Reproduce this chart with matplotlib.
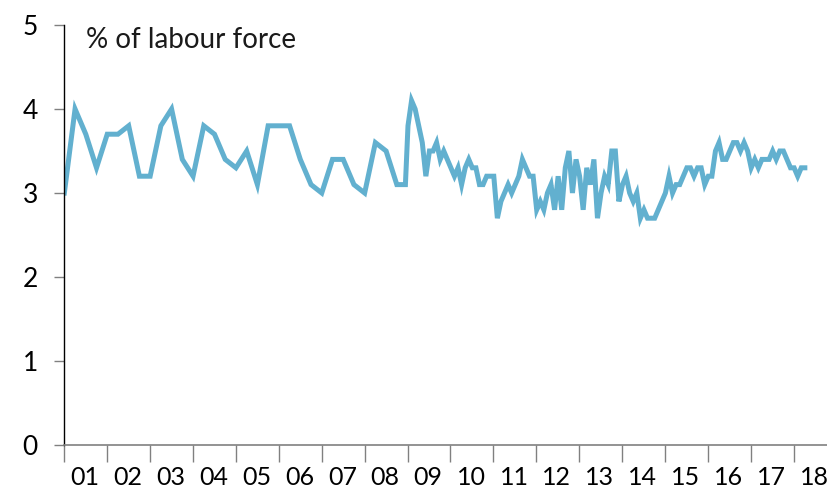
import matplotlib
matplotlib.use('Agg')
from matplotlib import pyplot as plt
import numpy as np

# quarterly series, 2001 Q1 .. 2009 Q1
quarterly = [3.0, 4.0, 3.7, 3.3, 3.7, 3.7, 3.8, 3.2, 3.2, 3.8, 4.0, 3.4,
             3.2, 3.8, 3.7, 3.4, 3.3, 3.5, 3.1, 3.8, 3.8, 3.8, 3.4, 3.1,
             3.0, 3.4, 3.4, 3.1, 3.0, 3.6, 3.5, 3.1, 3.1]

# monthly series from Jan 2009
monthly = [3.8, 4.1, 4.0, 3.8, 3.6, 3.2, 3.5, 3.5, 3.6, 3.4, 3.5, 3.4,
           3.3, 3.2, 3.3, 3.1, 3.3, 3.4, 3.3, 3.3, 3.1, 3.1, 3.2, 3.2,
           3.2, 2.7, 2.9, 3.0, 3.1, 3.0, 3.1, 3.2, 3.4, 3.3, 3.2, 3.2,
           2.8, 2.9, 2.8, 3.0, 3.1, 2.8, 3.2, 2.8, 3.3, 3.5, 3.0, 3.4,
           3.2, 2.8, 3.3, 3.1, 3.4, 2.7, 3.0, 3.2, 3.1, 3.5, 3.5, 2.9,
           3.1, 3.2, 3.0, 2.9, 3.0, 2.7, 2.8, 2.7, 2.7, 2.7, 2.8, 2.9,
           3.0, 3.2, 3.0, 3.1, 3.1, 3.2, 3.3, 3.3, 3.2, 3.3, 3.3, 3.1,
           3.2, 3.2, 3.5, 3.6, 3.4, 3.4, 3.5, 3.6, 3.6, 3.5, 3.6, 3.5,
           3.3, 3.4, 3.3, 3.4, 3.4, 3.4, 3.5, 3.4, 3.5, 3.5, 3.4, 3.3,
           3.3, 3.2, 3.3, 3.3]

year_labels = ['01', '02', '03', '04', '05', '06', '07', '08', '09',
               '10', '11', '12', '13', '14', '15', '16', '17', '18']

x_q = 2001 + 0.25 * np.arange(len(quarterly))
x_q[-1] -= 0.05
x_m = 2009 + np.arange(len(monthly)) / 12 + 0.01
x = np.concatenate([x_q, x_m])
y = np.concatenate([quarterly, monthly])

plt.rcParams['font.family'] = ['Lato', 'DejaVu Sans']

fig = plt.figure(figsize=(8.28, 4.96), dpi=100)
ax = fig.add_axes([0.0777, 0.1028, 0.9223, 0.8468])

ax.plot(x, y, color='#62b0cf', linewidth=3.6, solid_joinstyle='miter')

ax.set_xlim(2001, 2018.8)
ax.set_ylim(0, 5)
ax.set_yticks([0, 1, 2, 3, 4, 5])

years = np.arange(2001, 2019)
ax.set_xticks(years)
ax.set_xticklabels([])
ax.set_xticks(years + 0.48, minor=True)
ax.set_xticklabels(year_labels, minor=True)

ax.tick_params(axis='x', which='major', length=12, color='#808080', width=1)
ax.tick_params(axis='x', which='minor', length=0, pad=15, labelsize=18)
ax.tick_params(axis='y', length=7, color='#808080', width=1, pad=12, labelsize=19)

for side in ['top', 'right']:
    ax.spines[side].set_visible(False)
ax.spines['left'].set_color('black')
ax.spines['left'].set_linewidth(1)
ax.spines['bottom'].set_color('#808080')
ax.spines['bottom'].set_linewidth(1.2)

ax.text(0.028, 0.995, '% of labour force', transform=ax.transAxes,
        fontsize=20, va='top', ha='left', color='#1a1a1a')

fig.savefig('out.png', dpi=100)
